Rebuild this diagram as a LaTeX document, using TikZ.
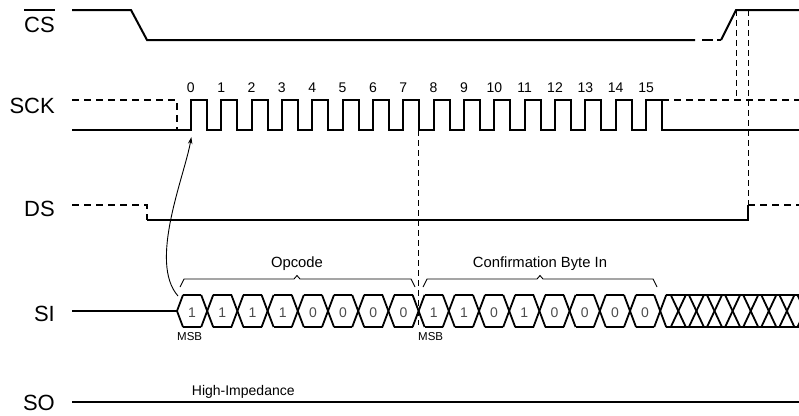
\documentclass[tikz,border=0pt]{standalone}
\usepackage{fontspec}
\setmainfont{Liberation Sans}
\usetikzlibrary{arrows.meta}
\begin{document}
\begin{tikzpicture}[x=1pt,y=-1pt,
  sig/.style={line width=2pt},
  sigdash/.style={line width=2pt,dash pattern=on 7pt off 5pt},
  guide/.style={line width=0.9pt,dash pattern=on 6pt off 4pt},
  thinl/.style={line width=0.9pt},
  hexl/.style={line width=1.8pt},
  biglab/.style={font=\fontsize{22}{24}\selectfont,anchor=base east,inner sep=0pt},
  smalltxt/.style={font=\fontsize{14}{16}\selectfont,inner sep=0pt,anchor=base},
  bittxt/.style={font=\fontsize{14}{16}\selectfont,text=black!70,inner sep=0pt,anchor=base},
  msbtxt/.style={font=\fontsize{11.5}{13}\selectfont,inner sep=0pt,anchor=base west}]
\useasboundingbox (0,0) rectangle (799,415);

% ---- labels
\node[biglab] (lcs) at (55,32) {CS};
\coordinate (ovl) at (0,10);
\draw[line width=1.2pt] (lcs.west |- ovl) -- (lcs.east |- ovl);
\node[biglab] (lsck) at (55,113.5) {SCK};
\node[biglab] (lds) at (55,216.7) {DS};
\node[biglab] (lsi) at (55,321.7) {SI};
\node[biglab] (lso) at (55,410) {SO};

% ---- CS
\draw[sig] (72,10) -- (131,10) -- (147,40) -- (695,40);
\draw[sig,dash pattern=on 0pt off 7pt on 11pt off 4pt on 10pt] (695,40) -- (721,40);
\draw[sig] (721,40) -- (736,10) -- (799,10);

% ---- SCK
\draw[sigdash] (72,100) -- (177,100) -- (177,130);
\draw[sig] (72,130) foreach \k in {0,...,15} {
   -- ({190.8+\k*30.35},130) -- ({190.8+\k*30.35},100)
   -- ({206.8+\k*30.35},100) -- ({206.8+\k*30.35},130) } -- (799,130);
\draw[sigdash] (662,100) -- (799,100);
\foreach \k in {0,...,15}
  \node[smalltxt] (n\k) at ({190.8+\k*30.35},92.7) {\k};

% ---- DS
\draw[sigdash] (72,205) -- (147,205) -- (147,220);
\draw[sig] (147,220) -- (748,220) -- (748,205);
\draw[sigdash] (748,205) -- (799,205);

% ---- guides
\draw[guide] (736,10) -- (736,100);
\draw[guide] (748,10) -- (748,205);
\draw[guide] (418.6,130) -- (418.6,325);

% ---- SI
\draw[sig] (72,311) -- (177,311);
\draw[hexl] (177,311) -- (183,295);
\draw[hexl] (177,311) -- (183,327);
\foreach \i in {0,...,15} {
  \draw[hexl] ({183+30.2*\i},295) -- ({171.2+30.2*(\i+1)},295);
  \draw[hexl] ({183+30.2*\i},327) -- ({171.2+30.2*(\i+1)},327);
}
\foreach \i in {1,...,16} {
  \draw[hexl] ({171+30.2*\i},295) -- ({183+30.2*\i},327);
  \draw[hexl] ({171+30.2*\i},327) -- ({183+30.2*\i},295);
}
% don't-care hatch
\draw[hexl] (666.2,295) -- (799,295);
\draw[hexl] (666.2,327) -- (799,327);
\foreach \j in {1,...,8} {
  \draw[hexl] ({660.2+18.1*\j-7.5},295) -- ({660.2+18.1*\j+7.5},327);
  \draw[hexl] ({660.2+18.1*\j-7.5},327) -- ({660.2+18.1*\j+7.5},295);
}
\foreach \v [count=\i from 0] in {1,1,1,1,0,0,0,0,1,1,0,1,0,0,0,0}
  \node[bittxt] (b\i) at ({192.1+30.2*\i},317.3) {\v};
\node[msbtxt] (msb1) at (177,340) {MSB};
\node[msbtxt] (msb2) at (418,340) {MSB};

% ---- braces
\draw[thinl] (180,287) -- (184,279) -- (294,279) -- (297,275.5) -- (300,279) -- (411,279) -- (415,287);
\draw[thinl] (423,287) -- (427,279) -- (537,279) -- (540,275.5) -- (543,279) -- (653,279) -- (657,287);
\node[font=\fontsize{14.8}{17}\selectfont,inner sep=0pt,anchor=base] (opc) at (297,267) {Opcode};
\node[font=\fontsize{14.8}{17}\selectfont,inner sep=0pt,anchor=base] (cbi) at (540,267) {Confirmation Byte In};

% ---- arrow
\coordinate (as) at (178,296);
\coordinate (ae) at (191.3,137);
\draw[thinl,-{Stealth[length=7pt,width=4.5pt]}] (as) .. controls (148,262) and (185,175) .. (ae);

% ---- SO
\draw[line width=2.4pt] (72,401.7) -- (799,401.7);
\node[font=\fontsize{14}{16}\selectfont,inner sep=0pt,anchor=base west] (hiz) at (191.7,395) {High-Impedance};
\end{tikzpicture}
\end{document}
